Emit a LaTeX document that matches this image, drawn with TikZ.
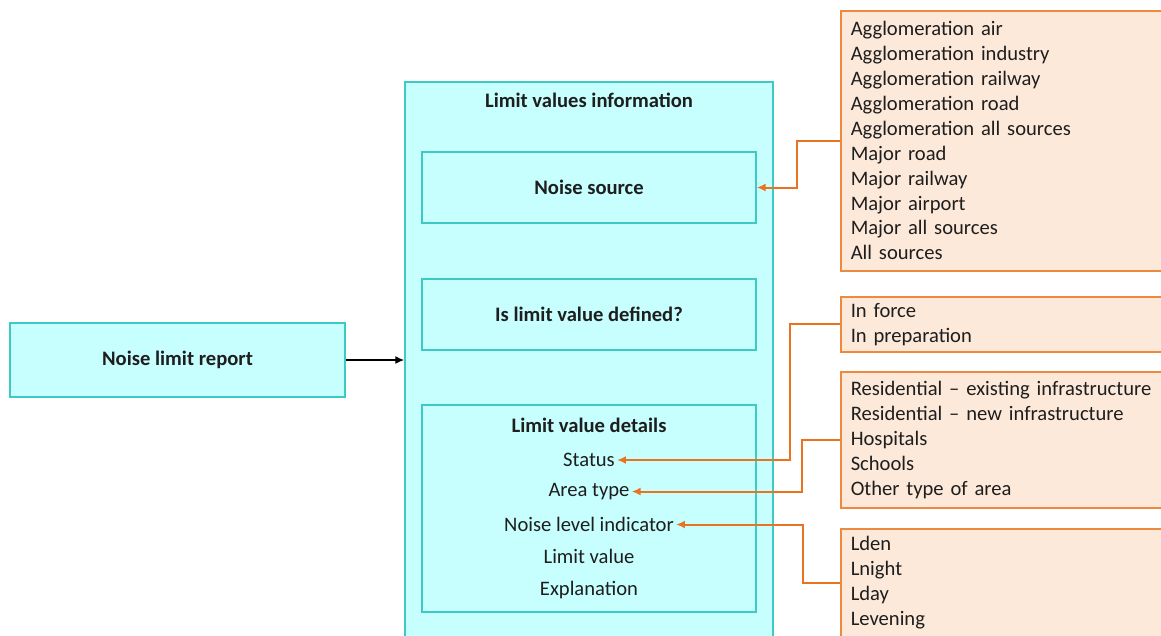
\documentclass[tikz,border=0pt]{standalone}
\usepackage{fontspec}
\setmainfont{Carlito}
\usepackage{tikz}
\usetikzlibrary{arrows.meta}

\definecolor{boxFill}{HTML}{C6FFFE}
\definecolor{boxLine}{HTML}{3FC9C4}
\definecolor{listFill}{HTML}{FDE9DA}
\definecolor{listLine}{HTML}{EE8A40}
\definecolor{linkCol}{HTML}{E97320}
\definecolor{txt}{HTML}{1E1E1E}

\begin{document}
\begin{tikzpicture}[x=1pt,y=-1pt,font=\fontsize{20.6}{24.9}\selectfont,text=txt]

		\useasboundingbox (0,0) rectangle (1161,635);
		\clip (0,0) rectangle (1161,635);

		\tikzstyle{block}=[draw=boxLine, line width=1.3pt, rectangle, fill=boxFill, inner sep=0pt]
		\tikzstyle{title}=[font=\fontsize{20.6}{24.9}\selectfont\bfseries, inner sep=1pt]
		\tikzstyle{field}=[inner sep=2pt]
		\tikzstyle{codelist}=[draw=listLine, line width=1.5pt, rectangle, fill=listFill, anchor=north west, align=left, text width=310pt, inner xsep=10pt, inner ysep=0pt]

		\node[block, minimum width=335pt, minimum height=74pt] (report) at (177.5,360) {};
		\node[title] (reportTitle) at (report.center) {Noise limit report};

		\node[block, minimum width=368pt, minimum height=578pt] (info) at (589,371) {};
		\node[title] (infoTitle) at (589,100) {Limit values information};

		\node[block, minimum width=334pt, minimum height=71pt] (noise) at (589,187.5) {};
		\node[title] (noiseTitle) at (noise.center) {Noise source};

		\node[block, minimum width=334pt, minimum height=71pt] (defined) at (589,314.5) {};
		\node[title] (definedTitle) at (defined.center) {Is limit value defined?};

		\node[block, minimum width=334pt, minimum height=207pt] (details) at (589,508.5) {};
		\node[title] (detailsTitle) at (589,425) {Limit value details};
		\node[field] (status) at (589,460) {Status};
		\node[field] (area) at (589,491.5) {Area type};
		\node[field] (indicator) at (589,524.5) {Noise level indicator};
		\node[field] (limval) at (589,556.5) {Limit value};
		\node[field] (expl) at (589,590) {Explanation};

		\node[codelist, minimum height=260pt] (srcList) at (840,10) {Agglomeration air\\Agglomeration industry\\Agglomeration railway\\Agglomeration road\\Agglomeration all sources\\Major road\\Major railway\\Major airport\\Major all sources\\All sources};
		\node[codelist, minimum height=55pt] (statusList) at (840,296) {In force\\In preparation};
		\node[codelist, minimum height=136pt] (areaList) at (840,371) {Residential -- existing infrastructure\\Residential -- new infrastructure\\Hospitals\\Schools\\Other type of area};
		\node[codelist, minimum height=108pt] (indList) at (840,528) {Lden\\Lnight\\Lday\\Levening};

		\tikzstyle{linkMain}=[-{Latex[length=9pt,width=8pt]},line width=2.2pt,black]
		\tikzstyle{linkList}=[-{Latex[length=9pt,width=8pt]},line width=2pt,linkCol]

		\draw[linkMain] (report.east) -- (report.east -| info.west);

		\draw[linkList] (srcList.west) -- ++(-43,0) |- (noise.east);
		\draw[linkList] (statusList.west) -- ++(-50,0) |- (status.east);
		\draw[linkList] (areaList.west) -- ++(-38,0) |- (area.east);
		\draw[linkList] (indList.west) -- ++(-37,0) |- (indicator.east);

	\end{tikzpicture}
\end{document}
